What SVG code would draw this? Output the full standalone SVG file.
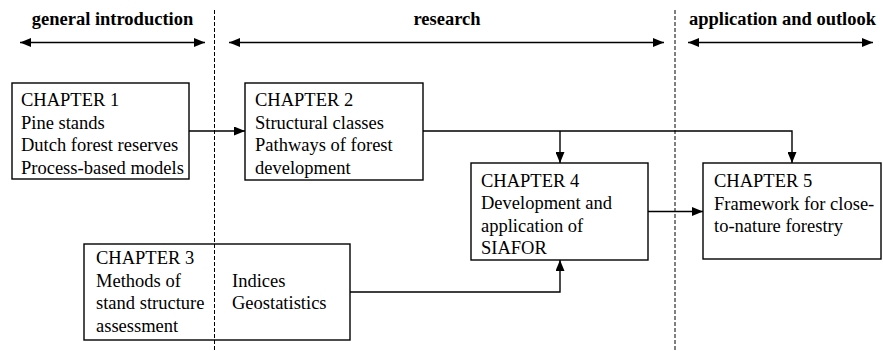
<svg xmlns="http://www.w3.org/2000/svg" width="883" height="351" viewBox="0 0 883 351">
<defs>
<marker id="ah" viewBox="0 0 11 9" refX="11" refY="4.5" markerWidth="11" markerHeight="9" markerUnits="userSpaceOnUse" orient="auto-start-reverse">
<path d="M0,0 L11,4.5 L0,9 z" fill="#000"/>
</marker>
<style>
.box{fill:#fff;stroke:#000;stroke-width:1.4}
.t{font-family:"Liberation Serif","Times New Roman",serif;font-size:18.5px;fill:#000}
.h{font-family:"Liberation Serif","Times New Roman",serif;font-size:18.5px;font-weight:bold;fill:#000;text-anchor:middle}
.c{fill:none;stroke:#000;stroke-width:1.4}
.d{fill:none;stroke:#000;stroke-width:1;stroke-dasharray:4 2}
</style>
</defs>
<rect width="883" height="351" fill="#fff"/>
<g id="dividers">
<line class="d" x1="214.5" y1="10" x2="214.5" y2="351"/>
<line class="d" x1="675" y1="10" x2="675" y2="351"/>
</g>
<g id="phases">
<text class="h" x="112.5" y="25">general introduction</text>
<text class="h" x="447" y="25">research</text>
<text class="h" x="782.5" y="25">application and outlook</text>
<line class="c" x1="20" y1="42.5" x2="205" y2="42.5" marker-start="url(#ah)" marker-end="url(#ah)"/>
<line class="c" x1="229" y1="42.5" x2="664" y2="42.5" marker-start="url(#ah)" marker-end="url(#ah)"/>
<line class="c" x1="688" y1="42.5" x2="873" y2="42.5" marker-start="url(#ah)" marker-end="url(#ah)"/>
</g>
<g id="chapter3">
<rect class="box" x="84" y="244" width="266" height="96"/>
<text class="t" x="96" y="263.5">CHAPTER 3</text>
<text class="t" x="96" y="286.5">Methods of</text>
<text class="t" x="96" y="309">stand structure</text>
<text class="t" x="96" y="331.5">assessment</text>
<text class="t" x="232" y="286.5">Indices</text>
<text class="t" x="232" y="309">Geostatistics</text>
</g>
<line class="d" x1="214.5" y1="244" x2="214.5" y2="340"/>
<g id="connectors">
<line class="c" x1="189" y1="131" x2="245" y2="131" marker-end="url(#ah)"/>
<polyline class="c" points="423,131 792,131 792,163" marker-end="url(#ah)"/>
<line class="c" x1="560" y1="131" x2="560" y2="163" marker-end="url(#ah)"/>
<line class="c" x1="648" y1="211.5" x2="703" y2="211.5" marker-end="url(#ah)"/>
<polyline class="c" points="350,292 560,292 560,260" marker-end="url(#ah)"/>
</g>
<g id="chapter1">
<rect class="box" x="12" y="83" width="177" height="96"/>
<text class="t" x="21" y="106">CHAPTER 1</text>
<text class="t" x="21" y="128.5">Pine stands</text>
<text class="t" x="21" y="151">Dutch forest reserves</text>
<text class="t" x="21" y="173.5">Process-based models</text>
</g>
<g id="chapter2">
<rect class="box" x="245" y="83" width="178" height="97"/>
<text class="t" x="255" y="106">CHAPTER 2</text>
<text class="t" x="255" y="128.5">Structural classes</text>
<text class="t" x="255" y="151">Pathways of forest</text>
<text class="t" x="255" y="173.5">development</text>
</g>
<g id="chapter4">
<rect class="box" x="471" y="163" width="177" height="97"/>
<text class="t" x="481" y="186.5">CHAPTER 4</text>
<text class="t" x="481" y="209">Development and</text>
<text class="t" x="481" y="231.5">application of</text>
<text class="t" x="481" y="254">SIAFOR</text>
</g>
<g id="chapter5">
<rect class="box" x="703" y="163" width="178" height="96"/>
<text class="t" x="714" y="187">CHAPTER 5</text>
<text class="t" x="714" y="209.5">Framework for close-</text>
<text class="t" x="714" y="232">to-nature forestry</text>
</g>
</svg>
